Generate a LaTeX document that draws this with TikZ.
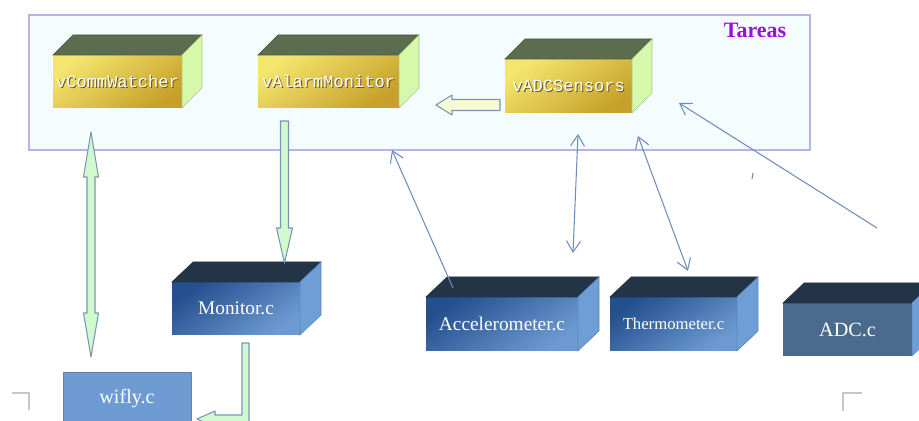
\documentclass[tikz,border=0pt]{standalone}
\usepackage{fontspec}
\setmainfont{Liberation Serif}
\setmonofont{Liberation Mono}
\usetikzlibrary{arrows.meta,calc,positioning}
\definecolor{amarilloA}{HTML}{F3E56E}
\definecolor{amarilloB}{HTML}{C6A02A}
\definecolor{techoVerde}{HTML}{5B6D4E}
\definecolor{ladoVerde}{HTML}{D6F8AA}
\definecolor{azulA}{HTML}{24508F}
\definecolor{azulB}{HTML}{6D9BD1}
\definecolor{techoAzul}{HTML}{243447}
\definecolor{ladoAzul}{HTML}{6E9ED6}
\definecolor{azulPlano}{HTML}{4A6B8D}
\definecolor{azulWifly}{HTML}{6E9CD2}
\definecolor{lineaFina}{HTML}{6F8DBB}
\definecolor{fondoTareas}{HTML}{F5FCFD}
\definecolor{bordeTareas}{HTML}{B4B4EA}
\definecolor{verdeFlecha}{HTML}{D0F9D0}
\definecolor{cremaFlecha}{HTML}{F6FBD6}
\definecolor{bordeFlecha}{HTML}{7A94B8}
\definecolor{sombraT}{HTML}{6B5A20}
\definecolor{violetaT}{HTML}{9A10D8}
\newcommand{\sombreado}[1]{\makebox[0pt][l]{\textcolor{sombraT}{\raisebox{-0.6pt}{\kern0.6pt #1}}}#1}

\begin{document}
\begin{tikzpicture}[x=0.02cm,y=-0.02cm,
  caja/.style 2 args={inner sep=0pt,outer sep=0pt,minimum width=#1*0.02cm,minimum height=#2*0.02cm},
  tarea/.style={top color=amarilloA,bottom color=amarilloB,shading angle=35,text=white,font=\fontsize{9.7}{11}\selectfont\ttfamily},
  modulo/.style={top color=azulA,bottom color=azulB,shading angle=35,text=white,font=\fontsize{11}{13}\selectfont},
  techoA/.style={fill=techoVerde,draw=techoVerde!80!black,line width=0.3pt},
  ladoA/.style={fill=ladoVerde,draw=ladoVerde!80!black,line width=0.3pt},
  techoB/.style={fill=techoAzul,draw=techoAzul,line width=0.3pt},
  ladoB/.style={fill=ladoAzul,draw=ladoAzul!85!black,line width=0.3pt},
  gorda/.style={fill=verdeFlecha,draw=bordeFlecha,line width=0.6pt,line join=round},
  fina/.style={draw=lineaFina,line width=0.6pt,-{Straight Barb[length=2.2mm,width=2.8mm]}},
  finadoble/.style={draw=lineaFina,line width=0.6pt,{Straight Barb[length=2.2mm,width=2.8mm]}-{Straight Barb[length=2.2mm,width=2.8mm]}},
  marca/.style={draw=black!22,line width=0.8pt}]
\useasboundingbox (0,0) rectangle (919,421);
\clip (0,0) rectangle (919,421);
%contenedor de tareas
\draw[fill=fondoTareas,draw=bordeTareas,line width=0.6pt] (29,15) rectangle (810,150);
\node[text=violetaT,font=\fontsize{12.5}{14}\selectfont\bfseries] (tareas) at (755,30) {Tareas};
%cajas amarillas
\node[tarea,caja={129}{53}] (vcomm) at (117.5,81.5) {\sombreado{vCommWatcher}};
\node[tarea,caja={141}{53}] (valarm) at (328.5,81.5) {\sombreado{vAlarmMonitor}};
\node[tarea,caja={127}{54}] (vadc) at (568.5,86) {\sombreado{vADCSensors}};
\foreach \n in {vcomm,valarm,vadc}{
  \draw[techoA] (\n.north west)--(\n.north east)--([shift={(20,-20)}]\n.north east)--([shift={(20,-20)}]\n.north west)--cycle;
  \draw[ladoA] (\n.north east)--([shift={(20,-20)}]\n.north east)--([shift={(20,-20)}]\n.south east)--(\n.south east)--cycle;
}
%cajas azules
\node[modulo,caja={128}{53}] (monitor) at (236,308.5) {Monitor.c};
\node[modulo,caja={152}{54}] (acc) at (502,324) {Accelerometer.c};
\node[modulo,caja={127}{54},font=\fontsize{9.5}{11}\selectfont] (termo) at (673.5,324) {Thermometer.c};
\node[caja={129}{53},fill=azulPlano,text=white,font=\fontsize{11.5}{13}\selectfont] (adc) at (847.5,329.5) {ADC.c};
\foreach \n in {monitor,acc,termo,adc}{
  \draw[techoB] (\n.north west)--(\n.north east)--([shift={(21,-20)}]\n.north east)--([shift={(21,-20)}]\n.north west)--cycle;
  \draw[ladoB] (\n.north east)--([shift={(21,-20)}]\n.north east)--([shift={(21,-20)}]\n.south east)--(\n.south east)--cycle;
}
\node[caja={128}{53},fill=azulWifly,draw=azulWifly!85!black,line width=0.4pt,text=white,font=\fontsize{11.5}{13}\selectfont] (wifly) at (127,398.5) {wifly.c};
%flechas gordas
\coordinate (fa) at ([shift={(-44,13)}]valarm.south);
\draw[gorda] (fa)++(-4,0)--++(8,0)--++(0,107)--++(4,0)--++(-8,35)--++(-8,-35)--++(4,0)--cycle;
\coordinate (fb) at ([shift={(-26.5,24)}]vcomm.south);
\draw[gorda] (fb)--++(7.5,45)--++(-3.5,0)--++(0,136)--++(3.5,0)--++(-7.5,44)--++(-7.5,-44)--++(3.5,0)--++(0,-136)--++(-3.5,0)--cycle;
\coordinate (fc) at ([shift={(2,-3)}]valarm.south east);
\draw[gorda,fill=cremaFlecha] (fc)++(35,0)--++(16,-10)--++(0,4.5)--++(48,0)--++(0,11)--++(-48,0)--++(0,4.5)--cycle;
\coordinate (fd) at ([shift={(6,8)}]monitor.south);
\draw[gorda] (fd)--++(7,0)--++(0,80)--++(-34,0)--++(0,4)--++(-18,-8)--++(18,-8)--++(0,4)--++(27,0)--cycle;
%flechas finas
\coordinate (ca) at (392,150);
\coordinate (cb) at (578,134);
\coordinate (cc) at (573,253);
\coordinate (cd) at (638,136);
\coordinate (ce) at (688,271);
\coordinate (cf) at (679,103);
\draw[fina] ([shift={(27,-9)}]acc.north west)--(ca);
\draw[finadoble] (cb)--(cc);
\draw[finadoble] (cd)--(ce);
\draw[fina] ([shift={(29.5,-75)}]adc.north)--(cf);
\draw[draw=lineaFina,line width=0.6pt] (753,173)--(752,179);
%marcas de esquina
\draw[marca] (12,393)--(29,393)--(29,410);
\draw[marca] (862,393)--(843,393)--(843,411);
\end{tikzpicture}
\end{document}
